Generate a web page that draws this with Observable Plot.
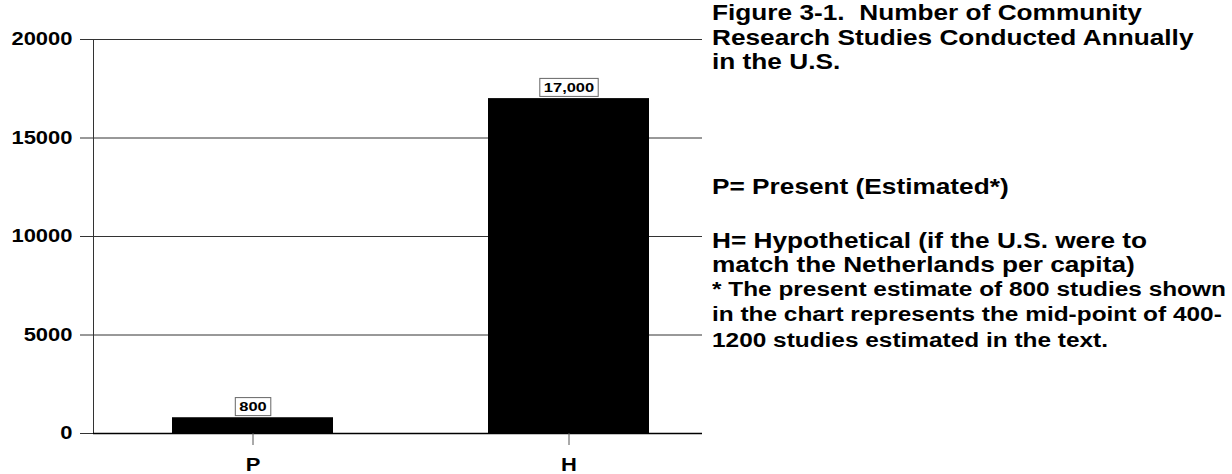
<!DOCTYPE html>
<html><head><meta charset="utf-8">
<script src="https://cdn.jsdelivr.net/npm/d3@7"></script>
<script src="https://cdn.jsdelivr.net/npm/@observablehq/plot@0.6"></script>
<style>
html,body{margin:0;padding:0;background:#fff;}
#wrap{position:relative;width:1232px;height:474px;overflow:hidden;font-family:"Liberation Sans",Arial,sans-serif;}
#chart{position:absolute;left:0;top:0;}
.ln{position:absolute;left:712px;white-space:pre;font-weight:bold;color:#000;line-height:1;transform:scaleX(1.22);transform-origin:0 0;}
</style></head><body>
<div id="wrap"><div id="chart"></div><div id="notes"></div></div>
<script>
const categories = ["P", "H"];
const values = [800, 17000];
const valueLabels = ["800", "17,000"];
const yTicks = [0, 5000, 10000, 15000, 20000];
const titleLines = ["Figure 3-1.  Number of Community", "Research Studies Conducted Annually", "in the U.S."];
const legendP = ["P= Present (Estimated*)"];
const legendH = ["H= Hypothetical (if the U.S. were to", "match the Netherlands per capita)"];
const footnoteLines = ["* The present estimate of 800 studies shown", "in the chart represents the mid-point of 400-", "1200 studies estimated in the text."];

const rows = categories.map((c, i) => ({cat: c, value: values[i], label: valueLabels[i]}));

const chart = Plot.plot({
  width: 1232, height: 474,
  marginLeft: 93, marginRight: 530, marginTop: 39, marginBottom: 41,
  style: {fontFamily: '"Liberation Sans", Arial, sans-serif', background: "transparent", color: "#000"},
  x: {type: "band", domain: categories, range: [93, 728], paddingInner: 0.49, paddingOuter: 0.2466, axis: null},
  y: {domain: [0, 20000], axis: null},
  marks: [
    Plot.gridY(yTicks, {stroke: "#333", strokeOpacity: 1, strokeWidth: 1}),
    Plot.axisY(yTicks, {tickSize: 13, tickPadding: 8, tickFormat: "d", fontSize: 18, fontWeight: "bold", stroke: "#333", label: null}),
    Plot.frame({anchor: "left", stroke: "#333"}),
    Plot.barY(rows, {x: "cat", y: "value", fill: "#000"}),
    Plot.ruleY([0], {stroke: "#000", strokeWidth: 1.5}),
    Plot.axisX(categories, {tickSize: 12, tickPadding: 13, fontSize: 18, fontWeight: "bold", stroke: "#555", label: null}),
    Plot.text(rows, {x: "cat", y: "value", text: "label", dy: -11, fontSize: 13.5, fontWeight: "bold", fill: "#000"})
  ]
});
document.getElementById("chart").appendChild(chart);
const svg = chart.tagName.toLowerCase() === "svg" ? chart : chart.querySelector("svg");

// horizontal stretch of the glyphs, as in the reference
const allTexts = Array.from(svg.querySelectorAll("text"));
allTexts.forEach(t => {
  const w = t.getComputedTextLength();
  if (w > 0) {
    t.setAttribute("textLength", (w * 1.22).toFixed(2));
    t.setAttribute("lengthAdjust", "spacingAndGlyphs");
  }
});

// boxes behind value labels
const sr = svg.getBoundingClientRect();
allTexts.filter(t => valueLabels.includes(t.textContent.trim())).forEach(t => {
  const r = t.getBoundingClientRect();
  let top = t;
  while (top.parentNode && top.parentNode !== svg) top = top.parentNode;
  const rect = document.createElementNS("http://www.w3.org/2000/svg", "rect");
  rect.setAttribute("x", (r.left - sr.left - 4).toFixed(1));
  rect.setAttribute("y", (r.top - sr.top - 1.5).toFixed(1));
  rect.setAttribute("width", (r.width + 8).toFixed(1));
  rect.setAttribute("height", (r.height + 3).toFixed(1));
  rect.setAttribute("fill", "#fff");
  rect.setAttribute("stroke", "#666");
  rect.setAttribute("stroke-width", "1");
  svg.insertBefore(rect, top);
});

// text panel on the right
const notes = document.getElementById("notes");
function addLines(lines, tops, size) {
  lines.forEach((s, i) => {
    const d = document.createElement("div");
    d.className = "ln";
    d.textContent = s;
    d.style.top = tops[i] + "px";
    d.style.fontSize = size + "px";
    notes.appendChild(d);
  });
}
addLines(titleLines, [3, 27.5, 52], 21.5);
addLines(legendP, [176.5], 21.5);
addLines(legendH, [230.5, 254.5], 21.5);
addLines(footnoteLines, [279, 304, 330], 20);
</script>
</body></html>
